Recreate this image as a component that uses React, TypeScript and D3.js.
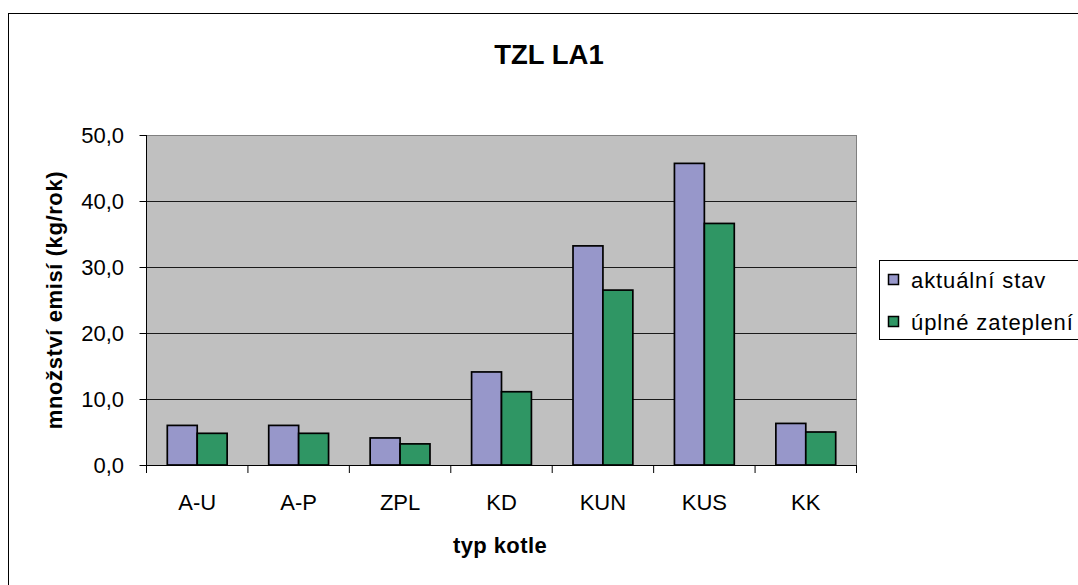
import React from "react";
import * as d3 from "d3";

const title = "TZL LA1";
const categories = ["A-U", "A-P", "ZPL", "KD", "KUN", "KUS", "KK"];
const seriesNames = ["aktuální stav", "úplné zateplení"];
const aktualniStav = [6.0, 6.0, 4.1, 14.1, 33.2, 45.7, 6.3];
const uplneZatepleni = [4.8, 4.8, 3.2, 11.1, 26.5, 36.6, 5.0];
const yTicks = [0, 10, 20, 30, 40, 50];
const yTitle = "množství emisí (kg/rok)";
const xTitle = "typ kotle";
const colors = ["#9797CA", "#2F9664"];

const W = 1078;
const H = 585;
const plot = { left: 146.5, right: 856.5, top: 135, bottom: 465 };
const font = "'Liberation Sans', Arial, sans-serif";

export default function App() {
  const y = d3.scaleLinear().domain([0, 50]).range([plot.bottom, plot.top]);
  const x0 = d3.scaleBand<string>().domain(categories).range([plot.left, plot.right]).padding(0);
  const groupW = x0.bandwidth() * 0.59;
  const x1 = d3.scaleBand<string>().domain(seriesNames).range([0, groupW]).padding(0);
  const values = [aktualniStav, uplneZatepleni];
  const boundaries = [...categories.map((c) => x0(c) as number), plot.right];

  return (
    <svg
      width={W}
      height={H}
      style={{ position: "absolute", left: 0, top: 0, background: "#fff" }}
      fontFamily={font}
    >
      {/* outer frame */}
      <rect x={8.5} y={13.5} width={1200} height={700} fill="#fff" stroke="#000" strokeWidth={1} />
      <text x={549} y={64} textAnchor="middle" fontSize={27.5} fontWeight="bold">
        {title}
      </text>

      {/* plot area */}
      <rect x={plot.left} y={plot.top} width={plot.right - plot.left} height={plot.bottom - plot.top} fill="#C0C0C0" />
      <line x1={plot.left} x2={plot.right} y1={plot.top + 0.5} y2={plot.top + 0.5} stroke="#808080" />
      <line x1={plot.right} x2={plot.right} y1={plot.top} y2={plot.bottom} stroke="#808080" />
      {yTicks.filter((t) => t > 0 && t < 50).map((t) => (
        <line key={t} x1={plot.left} x2={plot.right} y1={Math.round(y(t)) + 0.5} y2={Math.round(y(t)) + 0.5} stroke="#1a1a1a" />
      ))}

      {/* bars */}
      {categories.map((c, i) => (
        <g key={c}>
          {seriesNames.map((s, k) => {
            const v = values[k][i];
            const bx = (x0(c) as number) + (x0.bandwidth() - groupW) / 2 + (x1(s) as number);
            return (
              <rect
                key={s}
                x={bx}
                y={y(v)}
                width={x1.bandwidth()}
                height={plot.bottom - y(v)}
                fill={colors[k]}
                stroke="#000"
                strokeWidth={1.7}
              />
            );
          })}
        </g>
      ))}

      {/* axes */}
      <line x1={plot.left} x2={plot.left} y1={plot.top} y2={plot.bottom} stroke="#000" />
      <line x1={plot.left} x2={plot.right} y1={plot.bottom + 0.5} y2={plot.bottom + 0.5} stroke="#000" />
      {yTicks.map((t) => (
        <g key={t}>
          <line x1={plot.left - 7} x2={plot.left} y1={Math.round(y(t)) + 0.5} y2={Math.round(y(t)) + 0.5} stroke="#000" />
          <text x={124} y={y(t)} dy="0.36em" textAnchor="end" fontSize={22}>
            {d3.format(".1f")(t).replace(".", ",")}
          </text>
        </g>
      ))}
      {boundaries.map((b, i) => (
        <line key={i} x1={b} x2={b} y1={plot.bottom} y2={plot.bottom + 8} stroke="#000" />
      ))}
      {categories.map((c) => (
        <text key={c} x={(x0(c) as number) + x0.bandwidth() / 2} y={510} textAnchor="middle" fontSize={22}>
          {c}
        </text>
      ))}

      <text x={500} y={553} textAnchor="middle" fontSize={22} fontWeight="bold" letterSpacing={0.4}>
        {xTitle}
      </text>
      <text
        transform={`translate(62,${(plot.top + plot.bottom) / 2}) rotate(-90)`}
        textAnchor="middle"
        fontSize={22}
        fontWeight="bold"
        letterSpacing={0.6}
      >
        {yTitle}
      </text>

      {/* legend */}
      <rect x={879.5} y={260.5} width={300} height={79} fill="#fff" stroke="#000" />
      {seriesNames.map((s, k) => (
        <g key={s}>
          <rect x={888.5} y={274.5 + k * 42} width={10} height={10} fill={colors[k]} stroke="#000" strokeWidth={1.5} />
          <text x={911} y={288 + k * 42} fontSize={22} letterSpacing={0.9}>
            {s}
          </text>
        </g>
      ))}
    </svg>
  );
}
